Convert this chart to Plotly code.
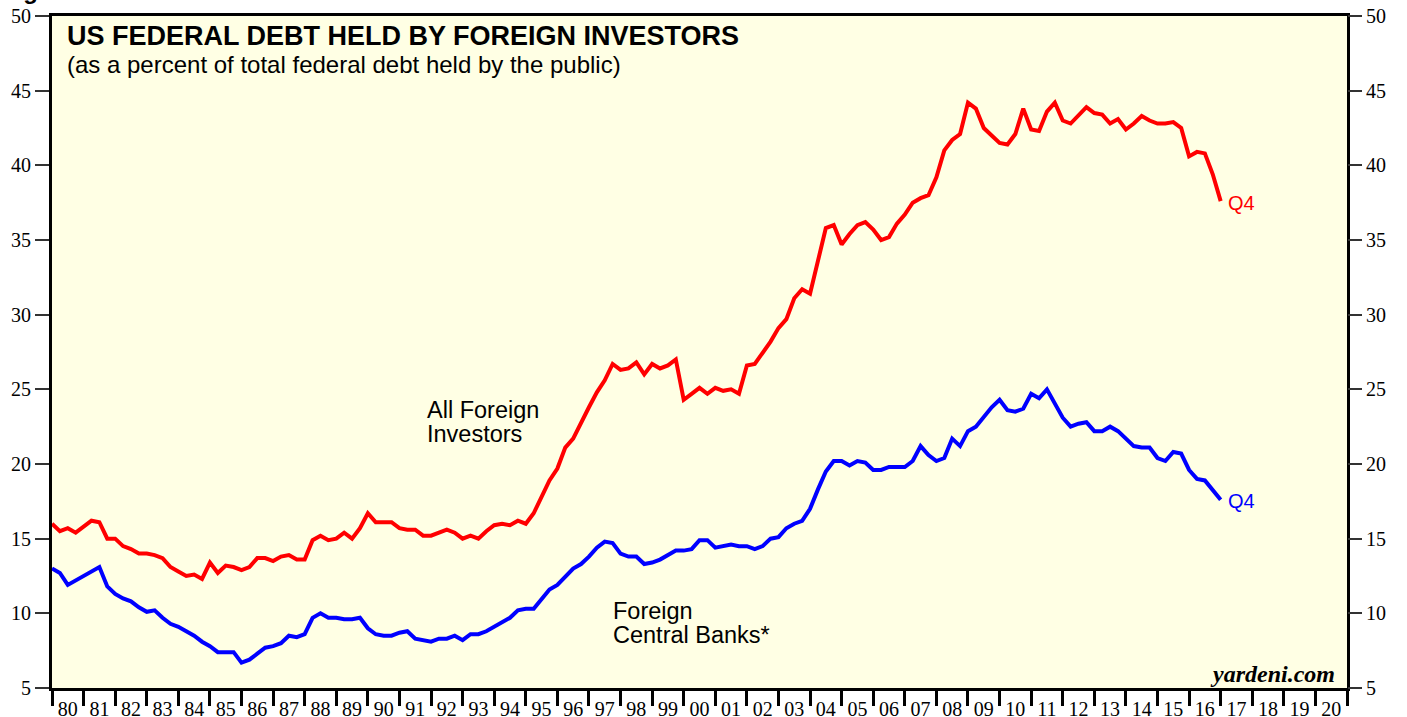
import plotly.graph_objects as go

# ---------------- data (quarterly, 1980.0 .. 2017.0) ----------------
START_YEAR = 1980
STEP = 0.25

ALL_FOREIGN = [
    16.0, 15.5, 15.7, 15.4, 15.8, 16.2, 16.1, 15.0, 15.0, 14.5, 14.3, 14.0, 14.0, 13.9, 13.7, 13.1,
    12.8, 12.5, 12.6, 12.3, 13.4, 12.7, 13.2, 13.1, 12.9, 13.1, 13.7, 13.7, 13.5, 13.8, 13.9, 13.6,
    13.6, 14.9, 15.2, 14.9, 15.0, 15.4, 15.0, 15.7, 16.7,
    16.1, 16.1, 16.1, 15.7, 15.6, 15.6, 15.2, 15.2, 15.4, 15.6, 15.4, 15.0, 15.2, 15.0, 15.5, 15.9,
    16.0, 15.9, 16.2, 16.0, 16.7, 17.8, 18.9, 19.7, 21.1, 21.7, 22.8, 23.8, 24.8, 25.6, 26.7, 26.3,
    26.4, 26.8, 26.0, 26.7, 26.4, 26.6, 27.0, 24.3,
    24.7, 25.1, 24.7, 25.1, 24.9, 25.0, 24.7, 26.6, 26.7, 27.4, 28.2, 29.1, 29.7, 31.1, 31.7, 31.4,
    33.5, 35.8, 36.0, 34.7, 35.4, 36.0, 36.2, 35.7, 35.0, 35.2, 36.1, 36.7, 37.5, 37.8, 38.0, 39.2,
    41.0, 41.7, 42.1, 44.2, 43.8, 42.5, 42.0, 41.5,
    41.4, 42.1, 43.8, 42.4, 42.3, 43.6, 44.2, 43.0, 42.8, 43.4, 43.9, 43.5, 43.4, 42.8, 43.1, 42.4,
    42.8, 43.3, 43.0, 42.8, 42.8, 42.9, 42.5, 40.6, 40.9, 40.8, 39.4, 37.6,
]

CENTRAL_BANKS = [
    13.0, 12.7, 11.9, 12.2, 12.5, 12.8, 13.1, 11.8, 11.3, 11.0, 10.8, 10.4, 10.1, 10.2, 9.7, 9.3,
    9.1, 8.8, 8.5, 8.1, 7.8, 7.4, 7.4, 7.4, 6.7, 6.9, 7.3, 7.7, 7.8, 8.0, 8.5, 8.4,
    8.6, 9.7, 10.0, 9.7, 9.7, 9.6, 9.6, 9.7, 9.0,
    8.6, 8.5, 8.5, 8.7, 8.8, 8.3, 8.2, 8.1, 8.3, 8.3, 8.5, 8.2, 8.6, 8.6, 8.8, 9.1,
    9.4, 9.7, 10.2, 10.3, 10.3, 11.0, 11.6, 11.9, 12.5, 13.0, 13.3, 13.8, 14.4, 14.8, 14.7, 14.0,
    13.8, 13.8, 13.3, 13.4, 13.6, 13.9, 14.2, 14.2,
    14.3, 14.9, 14.9, 14.4, 14.5, 14.6, 14.5, 14.5, 14.3, 14.5, 15.0, 15.1, 15.7, 16.0, 16.2, 17.0,
    18.3, 19.5, 20.2, 20.2, 19.9, 20.2, 20.1, 19.6, 19.6, 19.8, 19.8, 19.8, 20.2, 21.2, 20.6, 20.2,
    20.4, 21.7, 21.2, 22.2, 22.5, 23.2, 23.8, 24.3,
    23.6, 23.5, 23.7, 24.7, 24.4, 25.0, 24.1, 23.1, 22.5, 22.7, 22.8, 22.2, 22.2, 22.5, 22.2, 21.7,
    21.2, 21.1, 21.1, 20.4, 20.2, 20.8, 20.7, 19.6, 19.0, 18.9, 18.3, 17.6,
]

YEARS = list(range(1980, 2022))
YEAR_LABELS = ["80", "81", "82", "83", "84", "85", "86", "87", "88", "89",
               "90", "91", "92", "93", "94", "95", "96", "97", "98", "99",
               "00", "01", "02", "03", "04", "05", "06", "07", "08", "09",
               "10", "11", "12", "13", "14", "15", "16", "17", "18", "19", "20"]
Y_TICKS = [5, 10, 15, 20, 25, 30, 35, 40, 45, 50]

x = [START_YEAR + STEP * i for i in range(len(ALL_FOREIGN))]
label_pos = [y + 0.5 for y in YEARS[:-1]]

RED = "#FF0000"
BLUE = "#0000FF"
BG = "#FFFFE4"
SERIF = "Liberation Serif"
SANS = "Liberation Sans"

fig = go.Figure()
fig.add_trace(go.Scatter(x=x, y=ALL_FOREIGN, mode="lines", line=dict(color=RED, width=4),
                         name="All Foreign Investors", hoverinfo="skip"))
fig.add_trace(go.Scatter(x=x, y=CENTRAL_BANKS, mode="lines", line=dict(color=BLUE, width=4),
                         name="Foreign Central Banks*", hoverinfo="skip"))
# invisible helper traces so the label axes are drawn
fig.add_trace(go.Scatter(x=[YEARS[0], YEARS[-1]], y=[Y_TICKS[0], Y_TICKS[-1]], xaxis="x2", yaxis="y",
                         mode="markers", marker=dict(opacity=0), hoverinfo="skip", showlegend=False))
fig.add_trace(go.Scatter(x=[YEARS[0], YEARS[-1]], y=[Y_TICKS[0], Y_TICKS[-1]], xaxis="x", yaxis="y2",
                         mode="markers", marker=dict(opacity=0), hoverinfo="skip", showlegend=False))

tick_font = dict(family=SERIF, size=20, color="black")

fig.update_layout(
    width=1407, height=717,
    margin=dict(l=52, r=60, t=16, b=29, autoexpand=False),
    paper_bgcolor="white",
    plot_bgcolor=BG,
    showlegend=False,
    xaxis=dict(range=[YEARS[0], YEARS[-1]], tickvals=YEARS, ticktext=[""] * len(YEARS),
               ticks="outside", ticklen=15, tickwidth=3, tickcolor="black",
               showline=True, linecolor="black", linewidth=3, mirror=True, automargin=False,
               showgrid=False, zeroline=False, fixedrange=True),
    xaxis2=dict(range=[YEARS[0], YEARS[-1]], overlaying="x", side="bottom", anchor="y",
                tickvals=label_pos, ticktext=YEAR_LABELS, tickfont=tick_font, automargin=False,
                ticks="outside", ticklen=3, tickcolor="rgba(0,0,0,0)",
                showline=False, showgrid=False, zeroline=False),
    yaxis=dict(range=[5, 50], tickvals=Y_TICKS, tickfont=tick_font, automargin=False,
               ticks="outside", ticklen=14, tickwidth=2, tickcolor="#333333",
               showline=True, linecolor="black", linewidth=3, mirror=True,
               showgrid=False, zeroline=False),
    yaxis2=dict(range=[5, 50], overlaying="y", side="right", anchor="x", automargin=False,
                tickvals=Y_TICKS, tickfont=tick_font,
                ticks="outside", ticklen=14, tickwidth=2, tickcolor="#333333",
                showline=False, showgrid=False, zeroline=False),
)

PW, PH, L, T = 1295.0, 672.0, 52.0, 16.0
def px(xp):
    return (xp - L) / PW
def py(yp):
    return 1 - (yp - T) / PH

ann = [
    dict(text="<b>US FEDERAL DEBT HELD BY FOREIGN INVESTORS</b>", x=px(65), y=py(36),
         xanchor="left", yanchor="middle", font=dict(family=SANS, size=27, color="black")),
    dict(text="(as a percent of total federal debt held by the public)", x=px(65), y=py(65),
         xanchor="left", yanchor="middle", font=dict(family=SANS, size=24, color="black")),
    dict(text="All Foreign", x=px(425), y=py(410),
         xanchor="left", yanchor="middle", font=dict(family=SANS, size=23.5, color="black")),
    dict(text="Investors", x=px(425), y=py(434),
         xanchor="left", yanchor="middle", font=dict(family=SANS, size=23.5, color="black")),
    dict(text="Foreign", x=px(611), y=py(611),
         xanchor="left", yanchor="middle", font=dict(family=SANS, size=23.5, color="black")),
    dict(text="Central Banks*", x=px(611), y=py(635),
         xanchor="left", yanchor="middle", font=dict(family=SANS, size=23.5, color="black")),
    dict(text="Q4", x=px(1226), y=py(203), xanchor="left", yanchor="middle",
         font=dict(family=SANS, size=20, color=RED)),
    dict(text="Q4", x=px(1226), y=py(501), xanchor="left", yanchor="middle",
         font=dict(family=SANS, size=20, color=BLUE)),
    dict(text="<b><i>yardeni.com</i></b>", x=px(1337), y=py(674), xanchor="right", yanchor="middle",
         font=dict(family=SERIF, size=24, color="black")),
    dict(text="<b>Figure 8.</b>", x=px(0), y=py(6), xanchor="left", yanchor="bottom",
         font=dict(family=SANS, size=24, color="black")),
]
for a in ann:
    a.update(xref="paper", yref="paper", showarrow=False)
fig.update_layout(annotations=ann)

# the page's default 8px body margin would shift the figure; remove it
fig.write_html("out.html", config={"displayModeBar": False},
               post_script="document.body.style.margin='0';document.body.style.overflow='hidden';")
